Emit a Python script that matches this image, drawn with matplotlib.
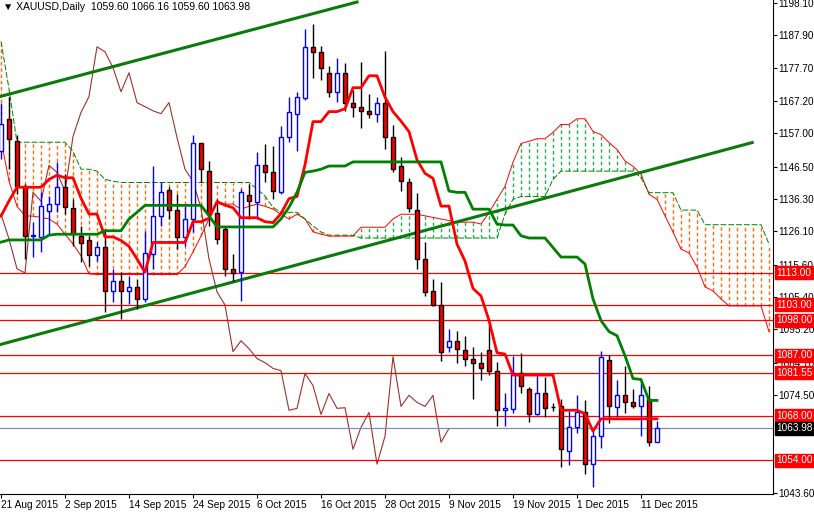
import numpy as np
import pandas as pd
import matplotlib
matplotlib.use("Agg")
import matplotlib.pyplot as plt

plt.rcParams['font.family'] = ['Liberation Sans', 'DejaVu Sans']

opens = [1151.3,1161.4,1154.5,1140.3,1124.6,1124.3,1132.5,1134.6,1140.0,1133.4,1124.6,1123.4,1118.6,1121.1,1107.3,1110.5,1107.3,1108.6,1104.8,1119.0,
         1130.9,1139.1,1132.8,1124.3,1129.9,1153.8,1145.0,1131.8,1126.8,1114.3,1113.3,1137.5,1135.3,1146.9,1144.7,1138.4,1155.7,1163.2,1168.3,1184.3,
         1182.7,1176.1,1170.1,1176.1,1166.7,1165.4,1163.9,1163.2,1166.7,1155.7,1146.6,1141.6,1132.8,1117.4,1107.3,1102.9,1089.8,1091.6,1088.8,1086.0,
         1084.7,1088.8,1082.2,1069.7,1070.0,1081.3,1076.3,1068.4,1075.0,1070.6,1071.2,1056.8,1064.3,1069.0,1052.7,1061.5,1085.4,1070.6,1074.4,1072.2,
         1071.2,1073.1,1059.6]
highs = [1166.7,1168.6,1156.6,1140.9,1129.0,1138.4,1137.2,1147.9,1144.1,1136.2,1127.8,1124.6,1122.7,1126.8,1114.3,1113.3,1112.0,1111.1,1126.2,1146.6,
         1141.6,1140.0,1137.8,1134.0,1156.6,1154.1,1148.2,1136.2,1127.8,1119.0,1139.5,1140.9,1151.0,1153.5,1152.9,1159.2,1168.6,1170.0,1189.9,1191.5,
         1184.6,1178.3,1180.8,1179.3,1170.8,1179.6,1169.5,1168.6,1183.0,1159.5,1149.7,1142.8,1138.1,1122.7,1111.1,1110.2,1095.4,1094.8,1093.2,1089.8,
         1088.2,1097.0,1085.0,1075.0,1086.9,1087.6,1076.9,1080.7,1080.3,1071.9,1073.4,1069.4,1074.4,1072.9,1063.1,1088.5,1087.0,1079.1,1083.8,1076.3,
         1079.1,1077.2,1066.16]
lows = [1148.8,1145.7,1137.8,1117.4,1118.0,1119.6,1125.2,1132.1,1131.5,1121.5,1116.5,1115.2,1116.8,1100.8,1103.9,1098.6,1103.3,1101.7,1103.9,1114.3,
        1127.8,1129.9,1120.5,1121.5,1125.9,1141.6,1127.8,1122.0,1112.1,1110.5,1104.2,1129.9,1129.9,1141.6,1136.2,1138.0,1154.4,1151.3,1167.6,1174.5,
        1173.9,1168.6,1167.0,1163.9,1162.3,1158.8,1161.7,1160.7,1152.2,1144.7,1138.7,1132.1,1114.3,1105.8,1102.6,1085.1,1088.2,1084.7,1083.8,1073.4,
        1079.1,1080.7,1064.6,1064.6,1068.7,1075.0,1066.0,1068.1,1067.5,1069.4,1051.8,1052.4,1062.4,1049.6,1045.5,1057.7,1065.6,1067.5,1068.7,1070.3,
        1061.5,1058.4,1059.6]
closes = [1159.8,1155.1,1140.3,1124.6,1124.9,1134.0,1134.6,1140.0,1133.7,1125.2,1122.4,1118.6,1121.1,1107.3,1110.5,1107.3,1108.6,1104.8,1119.3,1130.9,
          1138.4,1132.8,1124.3,1129.9,1153.8,1145.7,1131.5,1123.7,1114.3,1113.0,1138.4,1135.6,1146.9,1144.7,1138.7,1156.0,1163.6,1168.6,1184.3,1182.7,
          1177.7,1170.1,1176.1,1166.7,1165.4,1164.1,1163.2,1166.7,1155.7,1145.7,1141.9,1133.4,1117.4,1107.0,1102.9,1088.2,1091.6,1089.1,1086.0,1084.7,
          1082.9,1082.2,1069.7,1070.3,1081.3,1077.5,1068.4,1075.0,1070.3,1070.5,1057.4,1064.3,1069.0,1052.7,1061.5,1086.6,1070.9,1074.4,1072.2,1070.9,
          1074.4,1059.6,1063.98]

# Ichimoku lines
tenkan_early = [1130.9,1135.7,1140.0,1140.0,1140.0,1140.0,1142.5,1143.8]
kijun = ([1122.7] + [1123.4]*5 + [1124.9] + [1125.2]*6 + [1126.3]*3 + [1130.0, 1132.1] + [1134.3]*8 +
         [1131.0] + [1127.5]*8 + [1130.0, 1133.7, 1138.4, 1144.7, 1145.1, 1145.7] + [1146.7]*3 + [1148.0]*12 +
         [1138.8] + [1138.4]*2 + [1133.1]*3 + [1128.4] + [1128.1]*2 + [1124.7] + [1124.0]*3 + [1121.0] +
         [1118.0]*3 + [1115.8, 1104.8, 1098.0, 1094.5, 1093.2, 1086.9, 1079.7, 1079.4] + [1072.8]*2)
span_a = ([1155.0,1142.0,1134.0,1131.0,1130.9,1130.5,1130.0,1128.4,1125.2,1122.1,1118.4,1112.7] + [1112.5]*11 +
          [1115.0,1119.6,1124.6,1130.0,1135.6] + [1134.7]*2 + [1133.1,1134.0,1134.7,1134.0,1133.1,1131.5,1130.0,
          1131.5,1130.0,1126.0,1125.2] + [1124.6]*4 + [1127.4]*4 + [1130.0] + [1131.5]*3 + [1131.0,1130.5,1130.0,1129.5] +
          [1129.0]*3 + [1128.4,1132.0,1136.2,1140.3,1147.9,1153.8,1154.5] + [1155.3]*2 + [1157.3] + [1159.8]*2 +
          [1161.6]*2 + [1157.6,1156.6,1154.1,1151.9,1148.3,1146.6,1144.1,1137.8,1136.2,1131.0,1125.9,1120.5,1119.3,
          1114.9,1108.6,1107.3,1104.8] + [1102.6]*5 + [1094.5])
span_b = ([1186.0,1171.0] + [1154.2]*7 + [1151.3] + [1145.7]*2 + [1145.1,1142.5,1141.9] + [1141.5]*17 +
          [1139.5,1137.2,1133.7] + [1132.1]*3 + [1130.0,1127.8,1125.9] + [1124.9]*4 + [1124.0]*18 +
          [1131.5,1136.2] + [1137.1]*4 + [1142.5] + [1145.1]*10 + [1143.0] + [1138.3]*4 + [1132.8]*3 +
          [1128.2]*8 + [1122.1])

level_lines = [1113.00, 1103.00, 1098.00, 1087.00, 1081.55, 1068.00, 1054.00]
last_price = 1063.98
price_ticks = [1198.10,1187.90,1177.70,1167.20,1157.00,1146.50,1136.30,1126.10,1115.60,1105.40,1095.20,1084.70,1074.50,1043.60]
date_labels = ["21 Aug 2015","2 Sep 2015","14 Sep 2015","24 Sep 2015","6 Oct 2015","16 Oct 2015",
               "28 Oct 2015","9 Nov 2015","19 Nov 2015","1 Dec 2015","11 Dec 2015"]
date_idx = [0,8,16,24,32,40,48,56,64,72,80]
trend1_x = [-0.125, 44.5]; trend1_y = [1168.6, 1198.4]
trend2_x = [-0.125, 93.9]; trend2_y = [1090.4, 1154.1]

df = pd.DataFrame(dict(o=opens,h=highs,l=lows,c=closes))
n = len(df)
H, L = df.h, df.l
tenkan = ((H.rolling(9).max()+L.rolling(9).min())/2).values
tenkan[:8] = tenkan_early
x = np.arange(n)

fig = plt.figure(figsize=(8.14,5.16), dpi=100)
ax = fig.add_axes([0, 22/516, 773/814, 1-22/516])
ax.set_xlim(-0.125, 96.5)
ax.set_ylim(1043.3, 1199.04)

# cloud
xs = np.arange(len(span_a))
for xi, a, b in zip(xs, span_a, span_b):
    col = '#22b050' if a > b else '#ff6a10'
    ax.vlines(xi, min(a,b), max(a,b), colors=col, linestyles=(0,(2.5,2)), lw=1.0, zorder=1)
ax.plot(xs, span_a, color='red', lw=0.7, zorder=2)
ax.plot(xs, span_b, color='green', lw=0.7, ls=(0,(6,2)), zorder=2)

# chikou
ax.plot(x[:n-26], df.c.values[26:], color='#a0302c', lw=0.8, zorder=2)

for lv in level_lines:
    ax.axhline(lv, color='red', lw=0.9, zorder=2)
ax.axhline(last_price, color='#8090a0', lw=0.9, zorder=2)

ax.plot(trend1_x, trend1_y, color='#0a7a0a', lw=2.2, zorder=3)
ax.plot(trend2_x, trend2_y, color='#0a7a0a', lw=2.2, zorder=3)

# candles
w = 0.6
for i in range(n):
    o,h,l,c = opens[i],highs[i],lows[i],closes[i]
    up = c >= o
    col = 'blue' if up else 'black'
    ax.vlines(i, l, h, colors=col, lw=1, zorder=4)
    lo, hi = min(o,c), max(o,c)
    if hi-lo < 0.3:
        ax.hlines(o, i-w/2, i+w/2, colors=col, lw=1, zorder=5)
    else:
        ax.add_patch(plt.Rectangle((i-w/2, lo), w, hi-lo, facecolor='white' if up else 'red',
                                   edgecolor='blue' if up else 'black', lw=1, zorder=5))

ax.plot(x, tenkan, color='red', lw=2, zorder=6)
ax.plot(x, kijun, color='green', lw=2, zorder=6)

ax.set_xticks(date_idx)
ax.set_xticklabels(date_labels, ha='left', fontsize=7.3)
ax.tick_params(axis='x', length=3, pad=1)
ax.yaxis.tick_right()
ax.set_yticks(price_ticks)
ax.set_yticklabels([f"{p:.2f}" for p in price_ticks], fontsize=7.2)
ax.tick_params(axis='y', length=3, pad=1)
for s in ax.spines.values():
    s.set_color('black'); s.set_lw(0.8)
ax.spines['top'].set_visible(False); ax.spines['left'].set_visible(False)

tr = ax.get_yaxis_transform()
for lv in level_lines:
    ax.text(1.004, lv, f"{lv:.2f}", transform=tr, fontsize=7.2, color='white', va='center', ha='left',
            bbox=dict(boxstyle='square,pad=0.15', fc='red', ec='red'), zorder=10, clip_on=False)
ax.text(1.004, last_price, f"{last_price:.2f}", transform=tr, fontsize=7.2, color='white', va='center', ha='left',
        bbox=dict(boxstyle='square,pad=0.15', fc='black', ec='black'), zorder=10, clip_on=False)

ax.text(0.004, 0.995, "▼ XAUUSD,Daily  1059.60 1066.16 1059.60 1063.98", transform=ax.transAxes,
        fontsize=7.5, va='top', ha='left', color='black')

fig.savefig("out.png", dpi=100)
